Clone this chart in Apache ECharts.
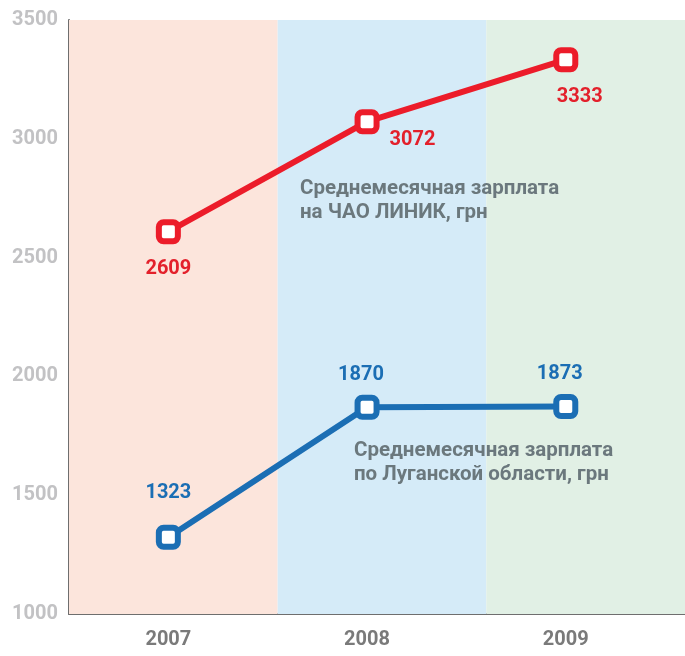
<!DOCTYPE html>
<html>
<head>
<meta charset="utf-8">
<script src="https://cdn.jsdelivr.net/npm/echarts@6/dist/echarts.min.js"></script>
<style>
  html, body { margin: 0; padding: 0; background: #fff; }
  #chart { width: 685px; height: 656px; }
</style>
</head>
<body>
<div id="chart"></div>
<script>
// данные
const years = [2007, 2008, 2009]
const linikSalary = [2609, 3072, 3333]
const luganskSalary = [1323, 1870, 1873]
const yTicks = [1000, 1500, 2000, 2500, 3000, 3500]
const bandEdges = [2006.5, 2007.55, 2008.6, 2009.6]
const bandColors = ['#fce5dc', '#d5ebf8', '#e1f0e5']

const font = 'Roboto, "Noto Sans", sans-serif'

const chart = echarts.init(document.getElementById('chart'))

const labelStyle = (color) => ({
    show: true,
    color: color,
    fontFamily: font,
    fontWeight: 'bold',
    fontSize: 20
})

const noteStyle = (text) => ({
    text: text,
    fill: '#6b787d',
    fontFamily: font,
    fontWeight: 'bold',
    fontSize: 20.5,
    lineHeight: 24
})

const option = {
    animation: false,
    grid: { left: 69, right: 0, top: 20, bottom: 42 },
    xAxis: {
        type: 'value',
        min: bandEdges[0],
        max: bandEdges[3],
        splitLine: { show: false },
        axisLine: { show: true, lineStyle: { color: '#6e6e6e', width: 2 } },
        axisTick: { show: false },
        axisLabel: {
            customValues: years,
            formatter: v => String(v),
            color: '#7a7a7a',
            fontFamily: font,
            fontWeight: 'bold',
            fontSize: 20,
            margin: 16
        }
    },
    yAxis: {
        type: 'value',
        min: yTicks[0],
        max: yTicks[yTicks.length - 1],
        interval: 500,
        splitLine: { show: false },
        axisLine: { show: true, lineStyle: { color: '#6e6e6e', width: 2 } },
        axisTick: { show: false },
        axisLabel: {
            formatter: v => String(v),
            color: '#c2c2c4',
            fontFamily: font,
            fontWeight: 'bold',
            fontSize: 20,
            margin: 11
        }
    },
    graphic: [
        {
            type: 'text', left: 300, top: 177, z: 10,
            style: noteStyle('Среднемесячная зарплата\nна ЧАО ЛИНИК, грн')
        },
        {
            type: 'text', left: 354, top: 439, z: 10,
            style: noteStyle('Среднемесячная зарплата\nпо Луганской области, грн')
        }
    ],
    series: [
        {
            name: 'ЛИНИК',
            type: 'line',
            z: 3,
            data: years.map((y, i) => [y, linikSalary[i]]),
            symbol: 'roundRect',
            symbolSize: 19,
            lineStyle: { color: '#ec1c2a', width: 6 },
            itemStyle: { color: '#fff', borderColor: '#ec1c2a', borderWidth: 6 },
            label: { ...labelStyle('#e3202b'), position: 'bottom', distance: 15 },
            markArea: {
                silent: true,
                data: bandColors.map((c, i) => [
                    { xAxis: bandEdges[i], itemStyle: { color: c } },
                    { xAxis: bandEdges[i + 1] }
                ])
            }
        },
        {
            name: 'Луганская обл.',
            type: 'line',
            z: 3,
            data: years.map((y, i) => [y, luganskSalary[i]]),
            symbol: 'roundRect',
            symbolSize: 19,
            lineStyle: { color: '#1b6eb4', width: 6 },
            itemStyle: { color: '#fff', borderColor: '#1b6eb4', borderWidth: 6 },
            label: { ...labelStyle('#1b6eb4'), position: 'top', distance: 14 }
        }
    ]
}

// подписи отдельных точек
option.series[0].data[1] = {
    value: option.series[0].data[1],
    label: { position: 'right', distance: 10, offset: [0, 18] }
}
option.series[0].data[2] = {
    value: option.series[0].data[2],
    label: { offset: [14, 0] }
}
option.series[1].data[0] = {
    value: option.series[1].data[0],
    label: { distance: 22 }
}
option.series[1].data[1] = {
    value: option.series[1].data[1],
    label: { distance: 10, offset: [-6, 0] }
}
option.series[1].data[2] = {
    value: option.series[1].data[2],
    label: { distance: 10, offset: [-6, 0] }
}

chart.setOption(option)
</script>
</body>
</html>
